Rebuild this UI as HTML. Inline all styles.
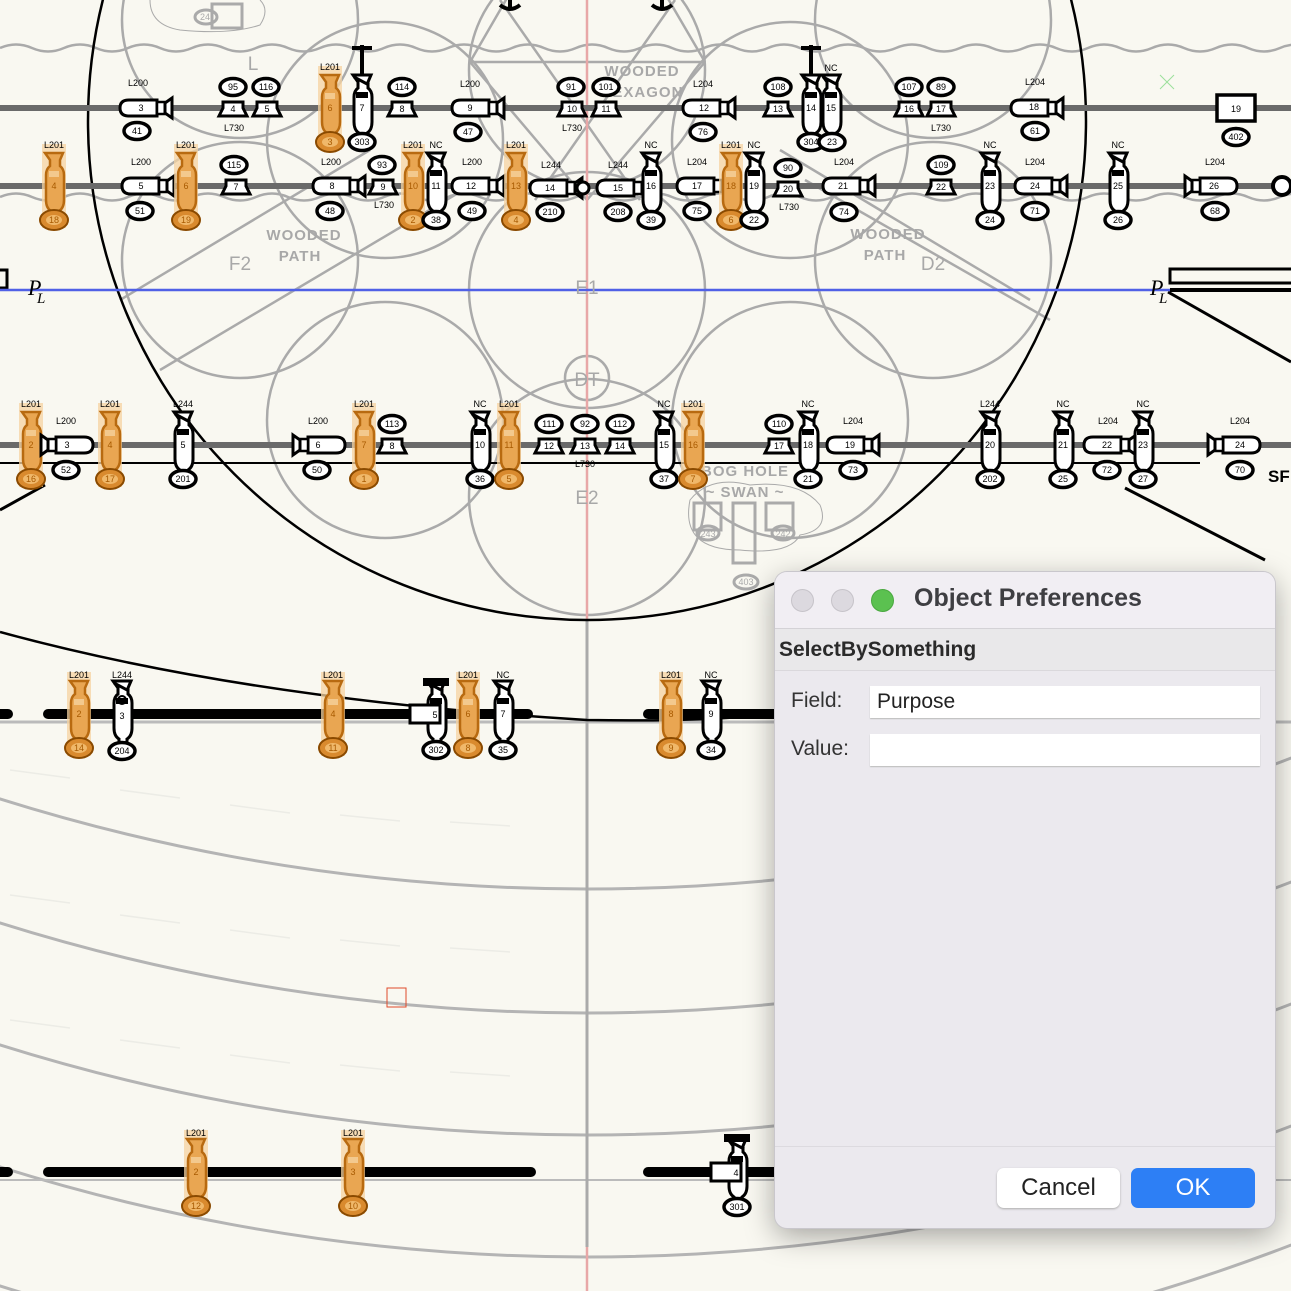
<!DOCTYPE html>
<html><head><meta charset="utf-8"><style>
html,body{margin:0;padding:0;background:#f9f8f1;overflow:hidden;}
body{width:1291px;height:1291px;position:relative;overflow:hidden;font-family:"Liberation Sans",sans-serif;}
svg{position:absolute;left:0;top:0;}
.t{font-family:"Liberation Sans",sans-serif;font-size:9px;text-anchor:middle;fill:#000;}
.n{font-family:"Liberation Sans",sans-serif;font-size:9px;text-anchor:middle;fill:#000;dominant-baseline:central;}
.no{font-family:"Liberation Sans",sans-serif;font-size:9px;text-anchor:middle;fill:#a85a00;dominant-baseline:central;}
.g{font-family:"Liberation Sans",sans-serif;font-size:15px;font-weight:bold;fill:#a8a8a8;text-anchor:middle;letter-spacing:1px;}
.gl{font-family:"Liberation Sans",sans-serif;font-size:19px;fill:#a8a8a8;text-anchor:middle;}
#dlg{position:absolute;left:775px;top:572px;width:500px;height:656px;background:#ebe9ee;border-radius:12px;box-shadow:0 0 0 1px #c9c7cc,0 8px 30px rgba(0,0,0,.35);overflow:hidden;}
#tb{height:56px;background:#f1eef3;border-bottom:1px solid #d4d2d6;position:relative;}
.dot{position:absolute;top:17px;width:23px;height:23px;border-radius:50%;background:#dcd9df;border:1px solid #c6c3c9;box-sizing:border-box;}
#ttl{position:absolute;left:139px;top:12px;font-size:25px;font-weight:bold;color:#3e3e42;}
#sec{height:41px;background:#e9e8ea;border-bottom:1px solid #dad8dc;font-size:21px;font-weight:bold;color:#2a2a2a;padding-left:4px;line-height:42px;}
.lab{position:absolute;font-size:21px;color:#333;}
.inp{position:absolute;left:95px;width:390px;height:32px;background:#fff;box-shadow:0 1px 1px #bbb;font-size:21px;color:#222;line-height:32px;padding-left:7px;box-sizing:border-box;}
.btn{position:absolute;top:596px;height:40px;border-radius:7px;font-size:24px;text-align:center;line-height:40px;}
</style></head><body>
<svg width="1291" height="1291" viewBox="0 0 1291 1291">
<defs>
<g id="V"><path d="M-9,-33 h18 l-3,7 v6 q4,3 4,9 v25 q0,8 -5,11 v5 h-8 v-5 q-5,-3 -5,-11 v-25 q0,-6 4,-9 v-6z" fill="#fff" stroke="#000" stroke-width="3"/><path d="M-8,-31 L7,-23" stroke="#000" stroke-width="3"/><rect x="-6" y="-16" width="12" height="6" fill="#000"/></g>
<g id="O"><rect x="-12" y="-42" width="24" height="84" fill="#f6d3a0" opacity=".75"/><path d="M-9,-33 h18 l-3,7 v6 q4,3 4,9 v25 q0,8 -5,11 v5 h-8 v-5 q-5,-3 -5,-11 v-25 q0,-6 4,-9 v-6z" fill="#e9a652" stroke="#b86a10" stroke-width="2.5"/><rect x="-5" y="-15" width="10" height="6" fill="#f3c98e"/><ellipse cx="0" cy="34" rx="14" ry="10" fill="#d98a2e" stroke="#8a4a00" stroke-width="2"/><ellipse cx="0" cy="34" rx="8" ry="5" fill="#f0b86a"/></g>
<g id="H"><path d="M-14,-8 h28 v16 h-28 q-9,0 -9,-8 q0,-8 9,-8z" fill="#fff" stroke="#000" stroke-width="3"/><rect x="14" y="-6" width="8" height="12" fill="#fff" stroke="#000" stroke-width="2.5"/><path d="M22,-5 l7,-5 v20 l-7,-5z" fill="#fff" stroke="#000" stroke-width="3"/></g>
<g id="T"><path d="M-14,8 h28 l-4,-8 v-6 h-20 v6z" fill="#fff" stroke="#000" stroke-width="3"/></g>
<g id="G"><ellipse cx="0" cy="0" rx="13" ry="8.5" fill="#fff" stroke="#000" stroke-width="3.5"/></g>
</defs>

<path d="M0,48 q16,-7 32,0 t32,0 t32,0 t32,0 t32,0 t32,0 t32,0 t32,0 t32,0 t32,0 t32,0 t32,0 t32,0 t32,0 t32,0 t32,0 t32,0 t32,0 t32,0 t32,0 t32,0 t32,0 t32,0 t32,0 t32,0 t32,0 t32,0 t32,0 t32,0 t32,0 t32,0 t32,0 t32,0 t32,0 t32,0 t32,0 t32,0 t32,0 t32,0 t32,0 t32,0" fill="none" stroke="#aaa" stroke-width="2.5"/>
<path d="M0,197 q16,-7 32,0 t32,0 t32,0 t32,0 t32,0 t32,0 t32,0 t32,0 t32,0 t32,0 t32,0 t32,0 t32,0 t32,0 t32,0 t32,0 t32,0 t32,0 t32,0 t32,0 t32,0 t32,0 t32,0 t32,0 t32,0 t32,0 t32,0 t32,0 t32,0 t32,0 t32,0 t32,0 t32,0 t32,0 t32,0 t32,0 t32,0 t32,0 t32,0 t32,0 t32,0" fill="none" stroke="#aaa" stroke-width="2.5"/>

<g fill="none" stroke="#aaa" stroke-width="2.5">
<circle cx="587" cy="290" r="118"/><circle cx="240" cy="260" r="118"/><circle cx="933" cy="260" r="118"/>
<circle cx="385" cy="140" r="118"/><circle cx="790" cy="140" r="118"/>
<circle cx="385" cy="420" r="118"/><circle cx="790" cy="420" r="118"/>
<circle cx="587" cy="497" r="118"/><circle cx="587" cy="70" r="118"/>
<circle cx="240" cy="20" r="118"/><circle cx="933" cy="20" r="118"/>
<circle cx="587" cy="378" r="22"/>
<path d="M470,62 H705 M470,62 L587,-140 M705,62 L587,-140 M470,62 L587,200 M705,62 L587,200 M500,0 L640,200 M675,0 L535,200"/>
<path d="M120,300 L370,150 M160,370 L480,180 M805,180 L1050,320 M780,150 L1030,300"/>
</g>
<path d="M690,500 q20,-25 60,-15 q50,-5 70,20 q10,25 -20,30 q-10,20 -60,15 q-60,0 -50,-50z" fill="none" stroke="#aaa" stroke-width="1"/>
<path d="M150,0 q0,25 30,30 q50,5 80,-5 q10,-15 0,-25" fill="none" stroke="#aaa" stroke-width="1"/>
<g fill="none" stroke="#aaa" stroke-width="3"><rect x="694" y="503" width="27" height="27"/><rect x="766" y="503" width="27" height="27"/><rect x="733" y="503" width="22" height="60"/><ellipse cx="708" cy="533" rx="11" ry="7"/><ellipse cx="783" cy="533" rx="11" ry="7"/><ellipse cx="746" cy="582" rx="12" ry="7"/><rect x="212" y="4" width="30" height="24"/><ellipse cx="206" cy="17" rx="11" ry="7"/></g>
<text x="708" y="537" class="t" style="fill:#aaa">243</text><text x="783" y="537" class="t" style="fill:#aaa">242</text><text x="746" y="585" class="t" style="fill:#aaa">403</text><text x="205" y="20" class="t" style="fill:#aaa">24</text>

<g fill="none" stroke="#b4b4b4" stroke-width="3">
<circle cx="587" cy="-1069" r="1958"/><circle cx="587" cy="-945" r="1958"/><circle cx="587" cy="-823" r="1958"/><circle cx="587" cy="-701" r="1958"/><circle cx="587" cy="-582" r="1958"/>
</g>
<path d="M0,722 H1291" stroke="#bbb" stroke-width="3"/>
<path d="M0,1180 H1291" stroke="#bbb" stroke-width="2"/>
<g fill="none" stroke="#ececE6" stroke-width="1.5">
<path d="M10,770 l60,8 M120,790 l60,8 M230,805 l60,8 M340,815 l60,6 M450,822 l60,4 M10,895 l60,8 M120,915 l60,8 M230,930 l60,8 M340,940 l60,6 M450,948 l60,4 M10,1020 l60,8 M120,1040 l60,8 M230,1055 l60,8 M340,1065 l60,6 M450,1072 l60,4"/>
</g>

<path d="M587,0 V620" stroke="#e8a7a7" stroke-width="2.5"/>
<path d="M587,620 V1247" stroke="#aaa" stroke-width="3"/>
<path d="M587,1247 V1291" stroke="#e8a7a7" stroke-width="2.5"/>

<circle cx="587" cy="121" r="499" fill="none" stroke="#000" stroke-width="2.5"/>
<path d="M0,632 Q250,700 587,720 Q700,722 775,714" fill="none" stroke="#000" stroke-width="2.5"/>
<path d="M1168,292 L1291,362 M1125,488 L1265,560 M0,510 L45,485" stroke="#000" stroke-width="3"/>
<rect x="1170" y="269" width="125" height="14" fill="none" stroke="#000" stroke-width="3"/>
<path d="M1170,290 H1291" stroke="#000" stroke-width="4"/>
<rect x="-5" y="270" width="12" height="18" fill="none" stroke="#000" stroke-width="3"/>

<path d="M0,108 H1291 M0,186 H1291 M0,445 H1291" stroke="#6a6a6a" stroke-width="6"/>
<path d="M0,463 H1200" stroke="#000" stroke-width="2"/>
<path d="M0,290 H1170" stroke="#5060e6" stroke-width="2.5"/>
<path d="M0,714 H8 M48,714 H528 M648,714 H775 M0,1172 H8 M48,1172 H531 M648,1172 H775" stroke="#000" stroke-width="10" stroke-linecap="round"/>

<text x="642" y="76" class="g">WOODED</text><text x="642" y="97" class="g">HEXAGON</text>
<text x="304" y="240" class="g">WOODED</text><text x="300" y="261" class="g">PATH</text>
<text x="888" y="239" class="g">WOODED</text><text x="885" y="260" class="g">PATH</text>
<text x="240" y="270" class="gl">F2</text><text x="933" y="270" class="gl">D2</text>
<text x="587" y="294" class="gl">E1</text><text x="587" y="386" class="gl">DT</text><text x="587" y="504" class="gl">E2</text>
<text x="745" y="476" class="g">BOG HOLE</text><text x="745" y="497" class="g">~ SWAN ~</text>
<text x="253" y="70" class="gl">L</text>
<text x="28" y="295" style="font-family:'Liberation Serif',serif;font-style:italic;font-size:22px">P</text><text x="37" y="303" style="font-family:'Liberation Serif',serif;font-style:italic;font-size:15px">L</text>
<text x="1150" y="295" style="font-family:'Liberation Serif',serif;font-style:italic;font-size:22px">P</text><text x="1159" y="303" style="font-family:'Liberation Serif',serif;font-style:italic;font-size:15px">L</text>
<text x="1268" y="482" style="font-size:17px;font-weight:bold;font-family:'Liberation Sans',sans-serif">SF</text>

<g stroke="#000" stroke-width="4" fill="none"><path d="M362,45 V75 M352,48 H372 M811,45 V75 M801,48 H821 M510,0 V8 M500,5 q10,8 20,0 M662,0 V8 M652,5 q10,8 20,0"/></g>
<rect x="1217" y="95" width="38" height="26" fill="#fff" stroke="#000" stroke-width="3.5"/>

<use href="#H" x="143" y="108"/><text x="138" y="86" class="t">L200</text><text x="141" y="108" class="n">3</text><use href="#G" x="137" y="131"/><text x="137" y="131" class="n">41</text>
<use href="#T" x="233" y="108"/><text x="233" y="109" class="n">4</text><use href="#G" x="233" y="87"/><text x="233" y="87" class="n">95</text>
<use href="#T" x="267" y="108"/><text x="267" y="109" class="n">5</text><use href="#G" x="266" y="87"/><text x="266" y="87" class="n">116</text><text x="234" y="131" class="t">L730</text>
<use href="#O" x="330" y="108"/><text x="330" y="70" class="t">L201</text><text x="330" y="108" class="no">6</text><text x="330" y="142" class="no">3</text>
<use href="#V" x="362" y="108"/><text x="362" y="108" class="n">7</text><use href="#G" x="362" y="142"/><text x="362" y="142" class="n">303</text>
<use href="#T" x="402" y="108"/><text x="402" y="109" class="n">8</text><use href="#G" x="402" y="87"/><text x="402" y="87" class="n">114</text>
<use href="#H" x="475" y="108"/><text x="470" y="87" class="t">L200</text><text x="470" y="108" class="n">9</text><use href="#G" x="468" y="132"/><text x="468" y="132" class="n">47</text>
<use href="#T" x="572" y="108"/><text x="572" y="109" class="n">10</text><use href="#G" x="571" y="87"/><text x="571" y="87" class="n">91</text>
<use href="#T" x="606" y="108"/><text x="606" y="109" class="n">11</text><use href="#G" x="606" y="87"/><text x="606" y="87" class="n">101</text><text x="572" y="131" class="t">L730</text>
<use href="#H" x="706" y="108"/><text x="703" y="87" class="t">L204</text><text x="704" y="108" class="n">12</text><use href="#G" x="703" y="132"/><text x="703" y="132" class="n">76</text>
<use href="#T" x="778" y="108"/><text x="778" y="109" class="n">13</text><use href="#G" x="778" y="87"/><text x="778" y="87" class="n">108</text>
<use href="#V" x="811" y="108"/><text x="811" y="108" class="n">14</text><use href="#G" x="811" y="142"/><text x="811" y="142" class="n">304</text>
<use href="#V" x="831" y="108"/><text x="831" y="71" class="t">NC</text><text x="831" y="108" class="n">15</text><use href="#G" x="832" y="142"/><text x="832" y="142" class="n">23</text>
<use href="#T" x="909" y="108"/><text x="909" y="109" class="n">16</text><use href="#G" x="909" y="87"/><text x="909" y="87" class="n">107</text>
<use href="#T" x="941" y="108"/><text x="941" y="109" class="n">17</text><use href="#G" x="941" y="87"/><text x="941" y="87" class="n">89</text><text x="941" y="131" class="t">L730</text>
<use href="#H" x="1034" y="108"/><text x="1035" y="85" class="t">L204</text><text x="1034" y="107" class="n">18</text><use href="#G" x="1035" y="131"/><text x="1035" y="131" class="n">61</text>
<text x="1236" y="109" class="n">19</text><use href="#G" x="1236" y="137"/><text x="1236" y="137" class="n">402</text>

<use href="#O" x="54" y="186"/><text x="54" y="148" class="t">L201</text><text x="54" y="186" class="no">4</text><text x="54" y="220" class="no">18</text>
<use href="#H" x="145" y="186"/><text x="141" y="165" class="t">L200</text><text x="141" y="186" class="n">5</text><use href="#G" x="140" y="211"/><text x="140" y="211" class="n">51</text>
<use href="#O" x="186" y="186"/><text x="186" y="148" class="t">L201</text><text x="186" y="186" class="no">6</text><text x="186" y="220" class="no">19</text>
<use href="#T" x="236" y="186"/><text x="236" y="187" class="n">7</text><use href="#G" x="234" y="165"/><text x="234" y="165" class="n">115</text>
<use href="#H" x="336" y="186"/><text x="331" y="165" class="t">L200</text><text x="332" y="186" class="n">8</text><use href="#G" x="330" y="211"/><text x="330" y="211" class="n">48</text>
<use href="#T" x="383" y="186"/><text x="383" y="187" class="n">9</text><use href="#G" x="382" y="165"/><text x="382" y="165" class="n">93</text><text x="384" y="208" class="t">L730</text>
<use href="#O" x="413" y="186"/><text x="413" y="148" class="t">L201</text><text x="413" y="186" class="no">10</text><text x="413" y="220" class="no">2</text>
<use href="#V" x="436" y="186"/><text x="436" y="148" class="t">NC</text><text x="436" y="186" class="n">11</text><use href="#G" x="436" y="220"/><text x="436" y="220" class="n">38</text>
<use href="#H" x="475" y="186"/><text x="472" y="165" class="t">L200</text><text x="471" y="186" class="n">12</text><use href="#G" x="472" y="211"/><text x="472" y="211" class="n">49</text>
<use href="#O" x="516" y="186"/><text x="516" y="148" class="t">L201</text><text x="516" y="186" class="no">13</text><text x="516" y="220" class="no">4</text>
<use href="#H" x="553" y="188"/><text x="551" y="168" class="t">L244</text><text x="550" y="188" class="n">14</text><use href="#G" x="550" y="212"/><text x="550" y="212" class="n">210</text>
<circle cx="583" cy="188" r="6" fill="#fff" stroke="#000" stroke-width="3"/>
<use href="#H" x="620" y="188"/><text x="618" y="168" class="t">L244</text><text x="618" y="188" class="n">15</text><use href="#G" x="618" y="212"/><text x="618" y="212" class="n">208</text>
<use href="#V" x="651" y="186"/><text x="651" y="148" class="t">NC</text><text x="651" y="186" class="n">16</text><use href="#G" x="651" y="220"/><text x="651" y="220" class="n">39</text>
<use href="#H" x="700" y="186"/><text x="697" y="165" class="t">L204</text><text x="697" y="186" class="n">17</text><use href="#G" x="697" y="211"/><text x="697" y="211" class="n">75</text>
<use href="#O" x="731" y="186"/><text x="731" y="148" class="t">L201</text><text x="731" y="186" class="no">18</text><text x="731" y="220" class="no">6</text>
<use href="#V" x="754" y="186"/><text x="754" y="148" class="t">NC</text><text x="754" y="186" class="n">19</text><use href="#G" x="754" y="220"/><text x="754" y="220" class="n">22</text>
<use href="#T" x="788" y="188"/><text x="788" y="189" class="n">20</text><use href="#G" x="788" y="168"/><text x="788" y="168" class="n">90</text><text x="789" y="210" class="t">L730</text>
<use href="#H" x="846" y="186"/><text x="844" y="165" class="t">L204</text><text x="843" y="186" class="n">21</text><use href="#G" x="844" y="212"/><text x="844" y="212" class="n">74</text>
<use href="#T" x="941" y="186"/><text x="941" y="187" class="n">22</text><use href="#G" x="941" y="165"/><text x="941" y="165" class="n">109</text>
<use href="#V" x="990" y="186"/><text x="990" y="148" class="t">NC</text><text x="990" y="186" class="n">23</text><use href="#G" x="990" y="220"/><text x="990" y="220" class="n">24</text>
<use href="#H" x="1038" y="186"/><text x="1035" y="165" class="t">L204</text><text x="1035" y="186" class="n">24</text><use href="#G" x="1035" y="211"/><text x="1035" y="211" class="n">71</text>
<use href="#V" x="1118" y="186"/><text x="1118" y="148" class="t">NC</text><text x="1118" y="186" class="n">25</text><use href="#G" x="1118" y="220"/><text x="1118" y="220" class="n">26</text>
<use href="#H" x="1218" y="186" transform="translate(2432,0) scale(-1,1)"/><text x="1215" y="165" class="t">L204</text><text x="1214" y="186" class="n">26</text><use href="#G" x="1215" y="211"/><text x="1215" y="211" class="n">68</text>
<circle cx="1282" cy="186" r="9" fill="#fff" stroke="#000" stroke-width="4"/>

<use href="#O" x="31" y="445"/><text x="31" y="407" class="t">L201</text><text x="31" y="445" class="no">2</text><text x="31" y="479" class="no">16</text>
<use href="#H" x="70" y="445" transform="translate(140,0) scale(-1,1)"/><text x="66" y="424" class="t">L200</text><text x="67" y="445" class="n">3</text><use href="#G" x="66" y="470"/><text x="66" y="470" class="n">52</text>
<use href="#O" x="110" y="445"/><text x="110" y="407" class="t">L201</text><text x="110" y="445" class="no">4</text><text x="110" y="479" class="no">17</text>
<use href="#V" x="183" y="445"/><text x="183" y="407" class="t">L244</text><text x="183" y="445" class="n">5</text><use href="#G" x="183" y="479"/><text x="183" y="479" class="n">201</text>
<use href="#H" x="322" y="445" transform="translate(644,0) scale(-1,1)"/><text x="318" y="424" class="t">L200</text><text x="318" y="445" class="n">6</text><use href="#G" x="317" y="470"/><text x="317" y="470" class="n">50</text>
<use href="#O" x="364" y="445"/><text x="364" y="407" class="t">L201</text><text x="364" y="445" class="no">7</text><text x="364" y="479" class="no">1</text>
<use href="#T" x="392" y="445"/><text x="392" y="446" class="n">8</text><use href="#G" x="392" y="424"/><text x="392" y="424" class="n">113</text>
<use href="#V" x="480" y="445"/><text x="480" y="407" class="t">NC</text><text x="480" y="445" class="n">10</text><use href="#G" x="480" y="479"/><text x="480" y="479" class="n">36</text>
<use href="#O" x="509" y="445"/><text x="509" y="407" class="t">L201</text><text x="509" y="445" class="no">11</text><text x="509" y="479" class="no">5</text>
<use href="#T" x="549" y="445"/><text x="549" y="446" class="n">12</text><use href="#G" x="549" y="424"/><text x="549" y="424" class="n">111</text>
<use href="#T" x="585" y="445"/><text x="585" y="446" class="n">13</text><use href="#G" x="585" y="424"/><text x="585" y="424" class="n">92</text>
<use href="#T" x="620" y="445"/><text x="620" y="446" class="n">14</text><use href="#G" x="620" y="424"/><text x="620" y="424" class="n">112</text><text x="585" y="467" class="t">L730</text>
<use href="#V" x="664" y="445"/><text x="664" y="407" class="t">NC</text><text x="664" y="445" class="n">15</text><use href="#G" x="664" y="479"/><text x="664" y="479" class="n">37</text>
<use href="#O" x="693" y="445"/><text x="693" y="407" class="t">L201</text><text x="693" y="445" class="no">16</text><text x="693" y="479" class="no">7</text>
<use href="#T" x="779" y="445"/><text x="779" y="446" class="n">17</text><use href="#G" x="779" y="424"/><text x="779" y="424" class="n">110</text>
<use href="#V" x="808" y="445"/><text x="808" y="407" class="t">NC</text><text x="808" y="445" class="n">18</text><use href="#G" x="808" y="479"/><text x="808" y="479" class="n">21</text>
<use href="#H" x="850" y="445"/><text x="853" y="424" class="t">L204</text><text x="850" y="445" class="n">19</text><use href="#G" x="853" y="470"/><text x="853" y="470" class="n">73</text>
<use href="#V" x="990" y="445"/><text x="990" y="407" class="t">L244</text><text x="990" y="445" class="n">20</text><use href="#G" x="990" y="479"/><text x="990" y="479" class="n">202</text>
<use href="#V" x="1063" y="445"/><text x="1063" y="407" class="t">NC</text><text x="1063" y="445" class="n">21</text><use href="#G" x="1063" y="479"/><text x="1063" y="479" class="n">25</text>
<use href="#H" x="1107" y="445"/><text x="1108" y="424" class="t">L204</text><text x="1107" y="445" class="n">22</text><use href="#G" x="1107" y="470"/><text x="1107" y="470" class="n">72</text>
<use href="#V" x="1143" y="445"/><text x="1143" y="407" class="t">NC</text><text x="1143" y="445" class="n">23</text><use href="#G" x="1143" y="479"/><text x="1143" y="479" class="n">27</text>
<use href="#H" x="1237" y="445" transform="translate(2474,0) scale(-1,1)"/><text x="1240" y="424" class="t">L204</text><text x="1240" y="445" class="n">24</text><use href="#G" x="1240" y="470"/><text x="1240" y="470" class="n">70</text>

<use href="#O" x="79" y="714"/><text x="79" y="678" class="t">L201</text><text x="79" y="714" class="no">2</text><text x="79" y="748" class="no">14</text>
<use href="#V" x="122" y="714"/><text x="122" y="678" class="t">L244</text><circle cx="122" cy="700" r="4" fill="none" stroke="#000" stroke-width="2"/><text x="122" y="716" class="n">3</text><use href="#G" x="122" y="751"/><text x="122" y="751" class="n">204</text>
<use href="#O" x="333" y="714"/><text x="333" y="678" class="t">L201</text><text x="333" y="714" class="no">4</text><text x="333" y="748" class="no">11</text>
<use href="#V" x="436" y="714"/><rect x="423" y="678" width="26" height="8" fill="#000"/><rect x="410" y="705" width="30" height="18" fill="#fff" stroke="#000" stroke-width="3"/><text x="435" y="715" class="n">5</text><use href="#G" x="436" y="750"/><text x="436" y="750" class="n">302</text>
<use href="#O" x="468" y="714"/><text x="468" y="678" class="t">L201</text><text x="468" y="714" class="no">6</text><text x="468" y="748" class="no">8</text>
<use href="#V" x="503" y="714"/><text x="503" y="678" class="t">NC</text><text x="503" y="714" class="n">7</text><use href="#G" x="503" y="750"/><text x="503" y="750" class="n">35</text>
<use href="#O" x="671" y="714"/><text x="671" y="678" class="t">L201</text><text x="671" y="714" class="no">8</text><text x="671" y="748" class="no">9</text>
<use href="#V" x="711" y="714"/><text x="711" y="678" class="t">NC</text><text x="711" y="714" class="n">9</text><use href="#G" x="711" y="750"/><text x="711" y="750" class="n">34</text>

<use href="#O" x="196" y="1172"/><text x="196" y="1136" class="t">L201</text><text x="196" y="1172" class="no">2</text><text x="196" y="1206" class="no">12</text>
<use href="#O" x="353" y="1172"/><text x="353" y="1136" class="t">L201</text><text x="353" y="1172" class="no">3</text><text x="353" y="1206" class="no">10</text>
<use href="#V" x="737" y="1172"/><rect x="724" y="1134" width="26" height="8" fill="#000"/><rect x="711" y="1163" width="30" height="18" fill="#fff" stroke="#000" stroke-width="3"/><text x="736" y="1173" class="n">4</text><use href="#G" x="737" y="1207"/><text x="737" y="1207" class="n">301</text>

<rect x="387" y="988" width="19" height="19" fill="none" stroke="#e04a2a" stroke-width="1"/>
<path d="M1160,75 l14,14 M1174,75 l-14,14" stroke="#9be09b" stroke-width="1"/>
</svg>

<div id="dlg">
  <div id="tb">
    <div class="dot" style="left:16px"></div>
    <div class="dot" style="left:56px"></div>
    <div class="dot" style="left:96px;background:#5bc150;border-color:#4aa840"></div>
    <div id="ttl">Object Preferences</div>
  </div>
  <div id="sec">SelectBySomething</div>
  <div class="lab" style="left:16px;top:117px">Field:</div>
  <div class="inp" style="top:114px">Purpose</div>
  <div class="lab" style="left:16px;top:165px">Value:</div>
  <div class="inp" style="top:162px"></div>
  <div style="position:absolute;left:0;right:0;top:574px;border-top:1px solid #dcdadf"></div>
  <div class="btn" style="left:222px;width:123px;background:#fff;color:#222;box-shadow:0 1px 2px #aaa">Cancel</div>
  <div class="btn" style="left:356px;width:124px;background:#2d7ff5;color:#fff">OK</div>
</div>
</body></html>
